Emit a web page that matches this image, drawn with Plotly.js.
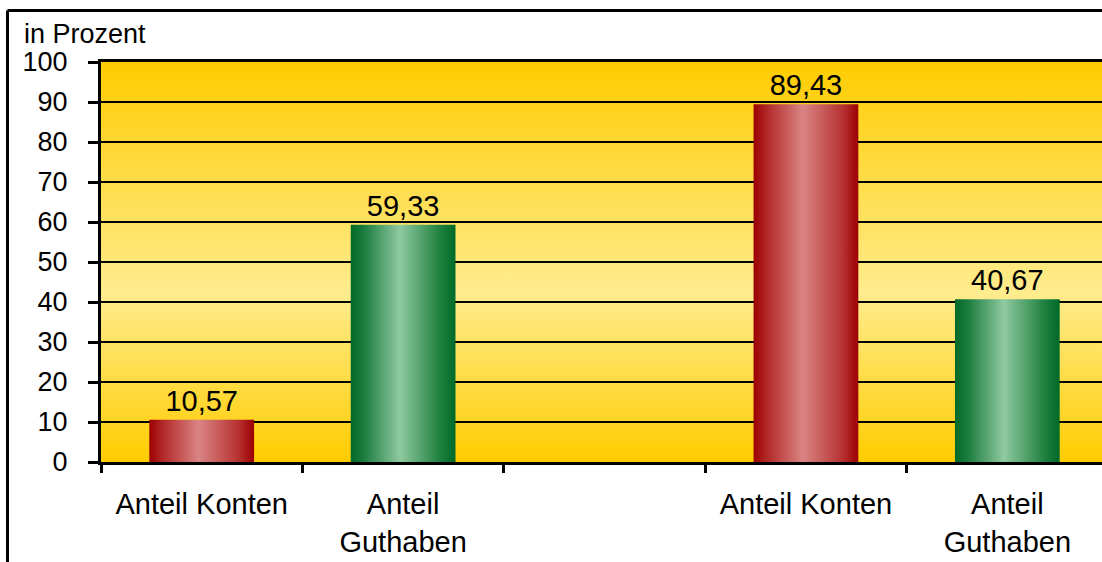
<!DOCTYPE html>
<html>
<head>
<meta charset="utf-8">
<script src="https://cdn.plot.ly/plotly-3.0.1.min.js"></script>
<style>
  html, body { margin: 0; padding: 0; background: #ffffff; overflow: hidden; }
  #chart { width: 1102px; height: 562px; }
</style>
</head>
<body>
<div id="chart"></div>
<script>
// ---- data ----
const categories = ['Anteil Konten', 'Anteil Guthaben', '', 'Anteil Konten', 'Anteil Guthaben'];
const tickLabels = ['Anteil Konten', 'Anteil<br>Guthaben', '', 'Anteil Konten', 'Anteil<br>Guthaben'];
const values = [10.57, 59.33, null, 89.43, 40.67];
const seriesKind = ['konten', 'guthaben', null, 'konten', 'guthaben'];
const yTicks = [0, 10, 20, 30, 40, 50, 60, 70, 80, 90, 100];
const yTitle = 'in Prozent';

// ---- build ----
const keys = categories.map((c, i) => String(i));
function seriesValues(kind) {
  return values.map((v, i) => (seriesKind[i] === kind ? v : null));
}
const FONT = 'Liberation Sans, Arial, Helvetica, sans-serif';

function barTrace(kind, color) {
  return {
    type: 'bar',
    x: keys,
    y: seriesValues(kind),
    width: 0.52,
    marker: { color: color, line: { width: 0 } },
    texttemplate: '%{y:.2f}',
    textposition: 'outside',
    textfont: { family: FONT, size: 29, color: '#000000' },
    cliponaxis: false,
    hoverinfo: 'skip',
    showlegend: false
  };
}

const data = [barTrace('konten', '#b83030'), barTrace('guthaben', '#2e8a4c')];

const L = 101, R = 1102, T = 62, B = 462;
const pw = R - L, ph = B - T;
const px = (x) => (x - L) / pw;
const py = (y) => (B - y) / ph;

const layout = {
  width: 1102,
  height: 562,
  margin: { l: L, r: 1102 - R, t: T, b: 562 - B, pad: 0 },
  paper_bgcolor: '#ffffff',
  plot_bgcolor: '#ffd21a',
  separators: ',.',
  barmode: 'overlay',
  font: { family: FONT, size: 27, color: '#000000' },
  xaxis: {
    type: 'category',
    categoryorder: 'array',
    categoryarray: keys,
    range: [-0.5, 4.47],
    tickmode: 'array',
    tickvals: keys,
    ticktext: tickLabels,
    tickson: 'boundaries',
    ticks: 'outside',
    ticklen: 8,
    tickwidth: 3,
    tickcolor: '#000000',
    ticklabelstandoff: 14,
    tickfont: { family: FONT, size: 29, color: '#000000' },
    showline: true,
    linecolor: '#000000',
    linewidth: 3,
    mirror: true,
    showgrid: false,
    zeroline: false,
    fixedrange: true
  },
  yaxis: {
    range: [0, 100],
    tickmode: 'array',
    tickvals: yTicks,
    ticktext: yTicks.map(String),
    ticks: 'outside',
    ticklen: 10,
    tickwidth: 3,
    tickcolor: '#000000',
    ticklabelstandoff: 15,
    tickfont: { family: FONT, size: 27, color: '#000000' },
    showline: true,
    linecolor: '#000000',
    linewidth: 3,
    showgrid: true,
    gridcolor: '#000000',
    gridwidth: 2.5,
    zeroline: false,
    fixedrange: true
  },
  annotations: [{
    xref: 'paper', yref: 'paper',
    x: px(23), y: py(50),
    xanchor: 'left', yanchor: 'bottom',
    text: yTitle,
    showarrow: false,
    borderpad: 0,
    font: { family: FONT, size: 27, color: '#000000' }
  }],
  shapes: [
    { type: 'line', xref: 'paper', yref: 'paper', layer: 'above',
      x0: px(7.5), x1: px(1110), y0: py(10.5), y1: py(10.5),
      line: { color: '#000000', width: 3 } },
    { type: 'line', xref: 'paper', yref: 'paper', layer: 'above',
      x0: px(7.5), x1: px(7.5), y0: py(10.5), y1: py(575),
      line: { color: '#000000', width: 3 } }
  ]
};

function addGradient(defs, id, stops, vertical) {
  const ns = 'http://www.w3.org/2000/svg';
  const g = document.createElementNS(ns, 'linearGradient');
  g.setAttribute('id', id);
  g.setAttribute('x1', '0'); g.setAttribute('y1', '0');
  g.setAttribute('x2', vertical ? '0' : '1'); g.setAttribute('y2', vertical ? '1' : '0');
  stops.forEach(([off, col]) => {
    const s = document.createElementNS(ns, 'stop');
    s.setAttribute('offset', off);
    s.setAttribute('stop-color', col);
    g.appendChild(s);
  });
  defs.appendChild(g);
}

Plotly.newPlot('chart', data, layout, { staticPlot: true, displayModeBar: false }).then(function (gd) {
  const svg = gd.querySelector('.main-svg');
  let defs = svg.querySelector('defs');
  if (!defs) { defs = document.createElementNS('http://www.w3.org/2000/svg', 'defs'); svg.insertBefore(defs, svg.firstChild); }
  addGradient(defs, 'gradKonten', [[0, '#9c0000'], [0.12, '#b22626'], [0.47, '#da8484'], [0.85, '#b73232'], [1, '#9c0000']], false);
  addGradient(defs, 'gradGuthaben', [[0, '#006a28'], [0.12, '#1b7c3e'], [0.47, '#8fc9a0'], [0.85, '#20813f'], [1, '#006a28']], false);
  addGradient(defs, 'gradBg', [[0, '#ffcc00'], [0.58, '#ffec8e'], [1, '#ffcc00']], true);
  const traces = gd.querySelectorAll('.barlayer .trace');
  const ids = ['gradKonten', 'gradGuthaben'];
  traces.forEach(function (tr, i) {
    tr.querySelectorAll('.point path').forEach(function (p) { p.style.fill = 'url(#' + ids[i] + ')'; });
  });
  const bg = gd.querySelector('.bglayer .bg');
  if (bg) bg.style.fill = 'url(#gradBg)';
});
</script>
</body>
</html>
